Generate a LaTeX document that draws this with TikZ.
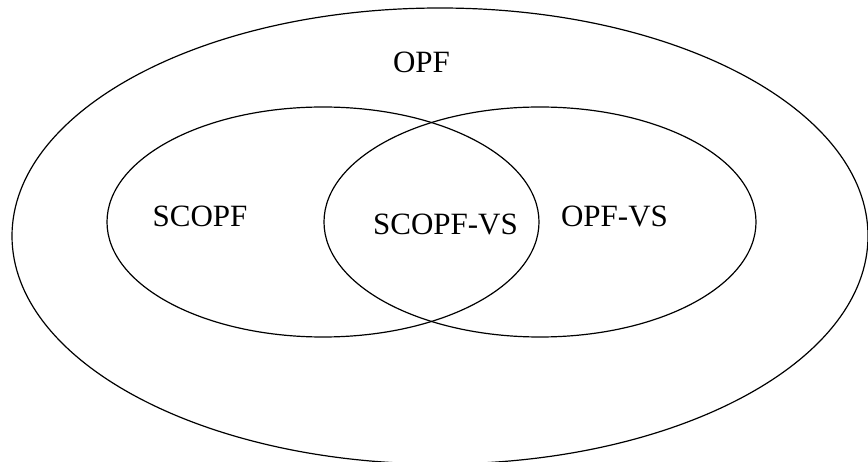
\documentclass[tikz,border=0pt]{standalone}
\usepackage{fontspec}
\setmainfont{Liberation Serif}
\usepackage{tikz}

\begin{document}
\begin{tikzpicture}[x = 1pt, y = -1pt, set/.style = {line width = 1.2pt}, lbl/.style = {anchor = base, inner sep = 0pt, font = \fontsize{31}{36}\selectfont}]
                \useasboundingbox (0, 0) rectangle (868, 462);

                \begin{scope}
                \clip (0, 0) rectangle (868, 462);
                \draw [set] (440, 236) ellipse [x radius = 428, y radius = 228];
                \end{scope}

                \draw [set] (323, 222) ellipse [x radius = 216, y radius = 115];
                \draw [set] (540, 222) ellipse [x radius = 216, y radius = 115];

                \node [lbl] (opf) at (421.5, 73) {OPF};
                \node [lbl] (scopf) at (200, 227) {SCOPF};
                \node [lbl] (scopfvs) at (445.5, 235) {SCOPF-VS};
                \node [lbl] (opfvs) at (614.5, 227) {OPF-VS};
            \end{tikzpicture}
\end{document}
